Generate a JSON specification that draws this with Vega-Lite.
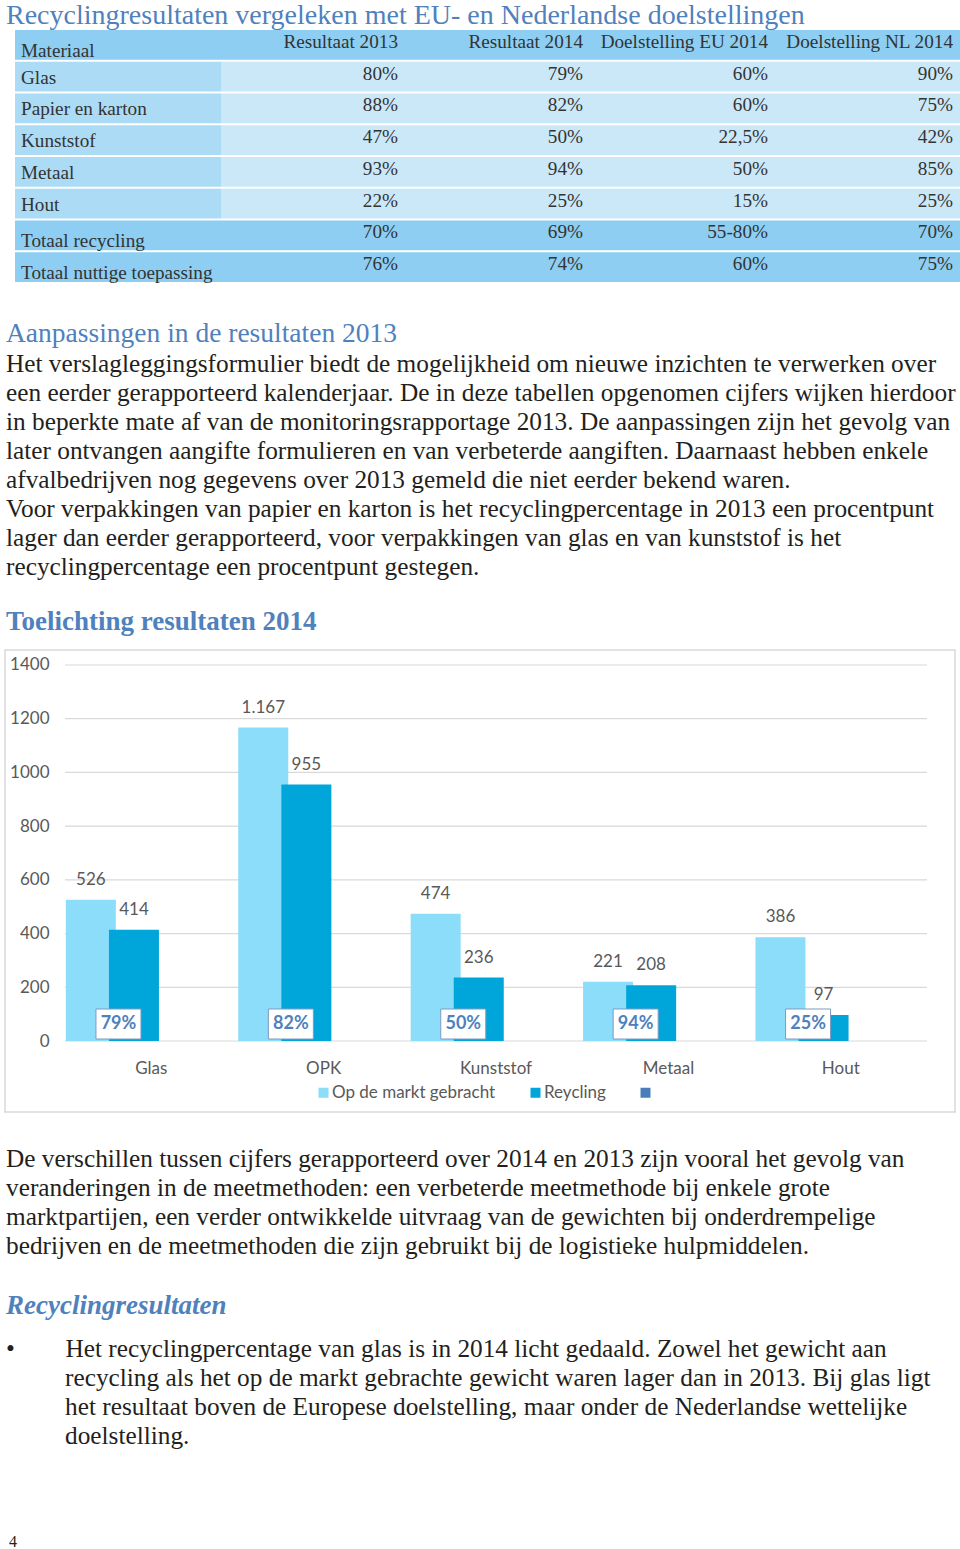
{
  "$schema": "https://vega.github.io/schema/vega-lite/v6.json",
  "background": "white",
  "padding": {"left": 4, "top": 2, "right": 0, "bottom": 0},
  "spacing": 0,
  "config": {
    "view": {"stroke": null},
    "locale": {"number": {"decimal": ",", "thousands": ".", "grouping": [3], "currency": ["€", ""]}},
    "title": {"anchor": "start", "frame": "group", "font": "Liberation Serif", "color": "#4F81BD", "fontWeight": "normal", "subtitleFont": "Liberation Serif", "subtitleColor": "#231F20", "subtitleFontSize": 25.3, "subtitleLineHeight": 29, "lineHeight": 29}
  },
  "vconcat": [
    {
      "width": 956,
      "height": 290,
      "title": {"text": "Recyclingresultaten vergeleken met EU- en Nederlandse doelstellingen", "fontSize": 28, "offset": 0, "dx": 1},
      "data": {"values": [
        {"Materiaal": "Materiaal", "Resultaat 2013": "Resultaat 2013", "Resultaat 2014": "Resultaat 2014", "Doelstelling EU 2014": "Doelstelling EU 2014", "Doelstelling NL 2014": "Doelstelling NL 2014", "group": "header"},
        {"Materiaal": "Glas", "Resultaat 2013": "80%", "Resultaat 2014": "79%", "Doelstelling EU 2014": "60%", "Doelstelling NL 2014": "90%", "group": "material"},
        {"Materiaal": "Papier en karton", "Resultaat 2013": "88%", "Resultaat 2014": "82%", "Doelstelling EU 2014": "60%", "Doelstelling NL 2014": "75%", "group": "material"},
        {"Materiaal": "Kunststof", "Resultaat 2013": "47%", "Resultaat 2014": "50%", "Doelstelling EU 2014": "22,5%", "Doelstelling NL 2014": "42%", "group": "material"},
        {"Materiaal": "Metaal", "Resultaat 2013": "93%", "Resultaat 2014": "94%", "Doelstelling EU 2014": "50%", "Doelstelling NL 2014": "85%", "group": "material"},
        {"Materiaal": "Hout", "Resultaat 2013": "22%", "Resultaat 2014": "25%", "Doelstelling EU 2014": "15%", "Doelstelling NL 2014": "25%", "group": "material"},
        {"Materiaal": "Totaal recycling", "Resultaat 2013": "70%", "Resultaat 2014": "69%", "Doelstelling EU 2014": "55-80%", "Doelstelling NL 2014": "70%", "group": "total"},
        {"Materiaal": "Totaal nuttige toepassing", "Resultaat 2013": "76%", "Resultaat 2014": "74%", "Doelstelling EU 2014": "60%", "Doelstelling NL 2014": "75%", "group": "total"}
      ]},
      "transform": [
        {"calculate": "datum.Materiaal", "as": "row"},
        {"fold": ["Materiaal", "Resultaat 2013", "Resultaat 2014", "Doelstelling EU 2014", "Doelstelling NL 2014"], "as": ["col", "text"]}
      ],
      "encoding": {
        "x": {"field": "col", "type": "nominal", "axis": null, "title": null,
              "scale": {"domain": ["Materiaal", "Resultaat 2013", "Resultaat 2014", "Doelstelling EU 2014", "Doelstelling NL 2014"], "paddingInner": 0, "paddingOuter": 0.0838, "align": 1}},
        "y": {"field": "row", "type": "nominal", "axis": null, "title": null,
              "scale": {"domain": ["Materiaal", "Glas", "Papier en karton", "Kunststof", "Metaal", "Hout", "Totaal recycling", "Totaal nuttige toepassing"], "paddingInner": 0.06, "paddingOuter": 0.597, "align": 0}}
      },
      "layer": [
        {
          "transform": [{"filter": "datum.col !== 'Materiaal'"}],
          "mark": {"type": "rect"},
          "encoding": {
            "color": {"condition": {"test": "datum.group !== 'material'", "value": "#8DCEF2"}, "value": "#CBE8F9"}
          }
        },
        {
          "transform": [{"filter": "datum.col === 'Materiaal'"}],
          "mark": {"type": "rect", "width": 206, "xOffset": -10.5},
          "encoding": {
            "color": {"condition": {"test": "datum.group !== 'material'", "value": "#8DCEF2"}, "value": "#ACDBF5"}
          }
        },
        {
          "transform": [{"filter": "datum.col === 'Materiaal' && datum.group !== 'material'"}],
          "mark": {"type": "text", "align": "left", "baseline": "alphabetic", "dx": -15, "dy": -3, "font": "Liberation Serif", "fontSize": 19.2, "color": "#333333"},
          "encoding": {
            "x": {"field": "col", "type": "nominal", "bandPosition": 0},
            "y": {"field": "row", "type": "nominal", "bandPosition": 1},
            "text": {"field": "text"}
          }
        },
        {
          "transform": [{"filter": "datum.col === 'Materiaal' && datum.group === 'material'"}],
          "mark": {"type": "text", "align": "left", "baseline": "alphabetic", "dx": -15, "dy": -8, "font": "Liberation Serif", "fontSize": 19.2, "color": "#333333"},
          "encoding": {
            "x": {"field": "col", "type": "nominal", "bandPosition": 0},
            "y": {"field": "row", "type": "nominal", "bandPosition": 1},
            "text": {"field": "text"}
          }
        },
        {
          "transform": [{"filter": "datum.col !== 'Materiaal'"}],
          "mark": {"type": "text", "align": "right", "baseline": "alphabetic", "dx": -8, "dy": -12, "font": "Liberation Serif", "fontSize": 19.2, "color": "#333333"},
          "encoding": {
            "x": {"field": "col", "type": "nominal", "bandPosition": 1},
            "y": {"field": "row", "type": "nominal", "bandPosition": 1},
            "text": {"field": "text"}
          }
        }
      ]
    },
    {
      "width": 956,
      "height": 27,
      "title": {
        "text": "Aanpassingen in de resultaten 2013",
        "fontSize": 27.5,
        "offset": 0,
        "dx": 1,
        "subtitlePadding": 4,
        "subtitle": [
          "Het verslagleggingsformulier biedt de mogelijkheid om nieuwe inzichten te verwerken over",
          "een eerder gerapporteerd kalenderjaar. De in deze tabellen opgenomen cijfers wijken hierdoor",
          "in beperkte mate af van de monitoringsrapportage 2013. De aanpassingen zijn het gevolg van",
          "later ontvangen aangifte formulieren en van verbeterde aangiften. Daarnaast hebben enkele",
          "afvalbedrijven nog gegevens over 2013 gemeld die niet eerder bekend waren.",
          "Voor verpakkingen van papier en karton is het recyclingpercentage in 2013 een procentpunt",
          "lager dan eerder gerapporteerd, voor verpakkingen van glas en van kunststof is het",
          "recyclingpercentage een procentpunt gestegen."
        ]
      },
      "data": {"values": []},
      "mark": "rule",
      "encoding": {}
    },
    {
      "width": 950,
      "height": 462,
      "view": {"stroke": "#D9D9D9", "strokeWidth": 1.5},
      "title": {"text": "Toelichting resultaten 2014", "fontSize": 27, "fontWeight": "bold", "offset": 14, "dx": 1},
      "data": {"values": [
        {"material": "Glas", "series": "Op de markt gebracht", "value": 526},
        {"material": "Glas", "series": "Reycling", "value": 414},
        {"material": "OPK", "series": "Op de markt gebracht", "value": 1167},
        {"material": "OPK", "series": "Reycling", "value": 955},
        {"material": "Kunststof", "series": "Op de markt gebracht", "value": 474},
        {"material": "Kunststof", "series": "Reycling", "value": 236},
        {"material": "Metaal", "series": "Op de markt gebracht", "value": 221},
        {"material": "Metaal", "series": "Reycling", "value": 208},
        {"material": "Hout", "series": "Op de markt gebracht", "value": 386},
        {"material": "Hout", "series": "Reycling", "value": 97}
      ]},
      "layer": [
        {
          "data": {"values": [{"tick": 0}, {"tick": 200}, {"tick": 400}, {"tick": 600}, {"tick": 800}, {"tick": 1000}, {"tick": 1200}, {"tick": 1400}]},
          "mark": {"type": "rule", "color": "#D9D9D9", "strokeWidth": 1.2},
          "encoding": {
            "y": {"field": "tick", "type": "quantitative", "title": null,
                  "scale": {"domain": [-264.36, 1455.85], "nice": false, "zero": false},
                  "axis": {"values": [0, 200, 400, 600, 800, 1000, 1200, 1400], "format": "d", "domain": false, "ticks": false, "grid": false, "labelPadding": 8, "offset": -52, "labelFont": "Lato", "labelFontSize": 17, "labelColor": "#595959", "title": null}},
            "x": {"datum": "Glas", "type": "nominal", "bandPosition": 0, "title": null,
                  "scale": {"domain": ["Glas", "OPK", "Kunststof", "Metaal", "Hout"], "paddingInner": 0, "paddingOuter": 0.2552, "align": 0.682},
                  "axis": {"orient": "bottom", "offset": -71, "labelPadding": 19, "domain": false, "ticks": false, "grid": false, "labelAngle": 0, "labelFont": "Lato", "labelFontSize": 17, "labelColor": "#595959", "title": null}},
            "x2": {"datum": "Hout", "bandPosition": 1}
          }
        },
        {
          "mark": {"type": "bar", "width": 50},
          "encoding": {
            "x": {"field": "material", "type": "nominal", "title": null, "sort": ["Glas", "OPK", "Kunststof", "Metaal", "Hout"],
                  "scale": {"domain": ["Glas", "OPK", "Kunststof", "Metaal", "Hout"], "paddingInner": 0, "paddingOuter": 0.2552, "align": 0.682},
                  "axis": {"orient": "bottom", "offset": -71, "labelPadding": 19, "domain": false, "ticks": false, "grid": false, "labelAngle": 0, "labelFont": "Lato", "labelFontSize": 17, "labelColor": "#595959", "title": null}},
            "xOffset": {"field": "series", "type": "nominal", "scale": {"domain": ["Op de markt gebracht", "Reycling"], "paddingInner": 0, "paddingOuter": 1.102, "align": 0.0498}},
            "y": {"field": "value", "type": "quantitative", "title": null,
                  "scale": {"domain": [-264.36, 1455.85], "nice": false, "zero": false},
                  "axis": {"values": [0, 200, 400, 600, 800, 1000, 1200, 1400], "format": "d", "domain": false, "ticks": false, "grid": false, "labelPadding": 8, "offset": -52, "labelFont": "Lato", "labelFontSize": 17, "labelColor": "#595959", "title": null}},
            "color": {"field": "series", "type": "nominal", "title": null,
                      "scale": {"domain": ["Op de markt gebracht", "Reycling", " "], "range": ["#8BDDFA", "#00A6DA", "#4A7EBB"]},
                      "legend": {"orient": "none", "legendX": 310, "legendY": 1054, "direction": "horizontal", "symbolType": "square", "symbolSize": 100, "symbolStrokeWidth": 0, "labelFont": "Lato", "labelFontSize": 17, "labelColor": "#595959", "labelOffset": 0, "labelLimit": 0, "columnPadding": 31, "padding": 0, "title": null}}
          }
        },
        {
          "mark": {"type": "text", "baseline": "middle", "dy": -20, "font": "Lato", "fontSize": 17, "color": "#595959"},
          "encoding": {
            "x": {"field": "material", "type": "nominal", "title": null},
            "xOffset": {"field": "series", "type": "nominal", "scale": {"domain": ["Op de markt gebracht", "Reycling"], "paddingInner": 0, "paddingOuter": 1.102, "align": 0.0498}},
            "y": {"field": "value", "type": "quantitative", "title": null},
            "text": {"field": "value", "type": "quantitative", "format": ",d"}
          }
        },
        {
          "data": {"values": [
            {"material": "Glas", "pct": "79%"},
            {"material": "OPK", "pct": "82%"},
            {"material": "Kunststof", "pct": "50%"},
            {"material": "Metaal", "pct": "94%"},
            {"material": "Hout", "pct": "25%"}
          ]},
          "layer": [
            {
              "mark": {"type": "point", "shape": "M-1,-0.667L1,-0.667L1,0.667L-1,0.667Z", "size": 2025, "filled": true, "fill": "white", "stroke": "#7F9AC0", "strokeWidth": 1, "opacity": 1, "yOffset": -17},
              "encoding": {
                "x": {"field": "material", "type": "nominal", "bandPosition": 0.31, "title": null},
                "y": {"datum": 0, "type": "quantitative", "title": null}
              }
            },
            {
              "mark": {"type": "text", "baseline": "middle", "yOffset": -17, "font": "Lato", "fontSize": 18, "fontWeight": "bold", "color": "#4F81BD"},
              "encoding": {
                "x": {"field": "material", "type": "nominal", "bandPosition": 0.31, "title": null},
                "y": {"datum": 0, "type": "quantitative", "title": null},
                "text": {"field": "pct"}
              }
            }
          ]
        }
      ]
    },
    {
      "width": 956,
      "height": 30,
      "title": {
        "text": [
          "De verschillen tussen cijfers gerapporteerd over 2014 en 2013 zijn vooral het gevolg van",
          "veranderingen in de meetmethoden: een verbeterde meetmethode bij enkele grote",
          "marktpartijen, een verder ontwikkelde uitvraag van de gewichten bij onderdrempelige",
          "bedrijven en de meetmethoden die zijn gebruikt bij de logistieke hulpmiddelen."
        ],
        "orient": "bottom",
        "fontSize": 25.3,
        "color": "#231F20",
        "offset": 4,
        "dx": 1
      },
      "data": {"values": []},
      "mark": "rule",
      "encoding": {}
    },
    {
      "width": 956,
      "height": 30,
      "title": {
        "text": "Recyclingresultaten",
        "orient": "bottom",
        "fontSize": 27,
        "fontWeight": "bold",
        "fontStyle": "italic",
        "offset": 3,
        "dx": 1,
        "subtitlePadding": 17,
        "subtitle": [
          "•\u2003\u2003Het recyclingpercentage van glas is in 2014 licht gedaald. Zowel het gewicht aan",
          "\u200b\u2003\u2003\u2004recycling als het op de markt gebrachte gewicht waren lager dan in 2013. Bij glas ligt",
          "\u200b\u2003\u2003\u2004het resultaat boven de Europese doelstelling, maar onder de Nederlandse wettelijke",
          "\u200b\u2003\u2003\u2004doelstelling."
        ]
      },
      "data": {"values": []},
      "mark": "rule",
      "encoding": {}
    },
    {
      "width": 956,
      "height": 82,
      "title": {"text": "4", "orient": "bottom", "fontSize": 16, "color": "#231F20", "offset": 2, "dx": 4},
      "data": {"values": []},
      "mark": "rule",
      "encoding": {}
    }
  ]
}
